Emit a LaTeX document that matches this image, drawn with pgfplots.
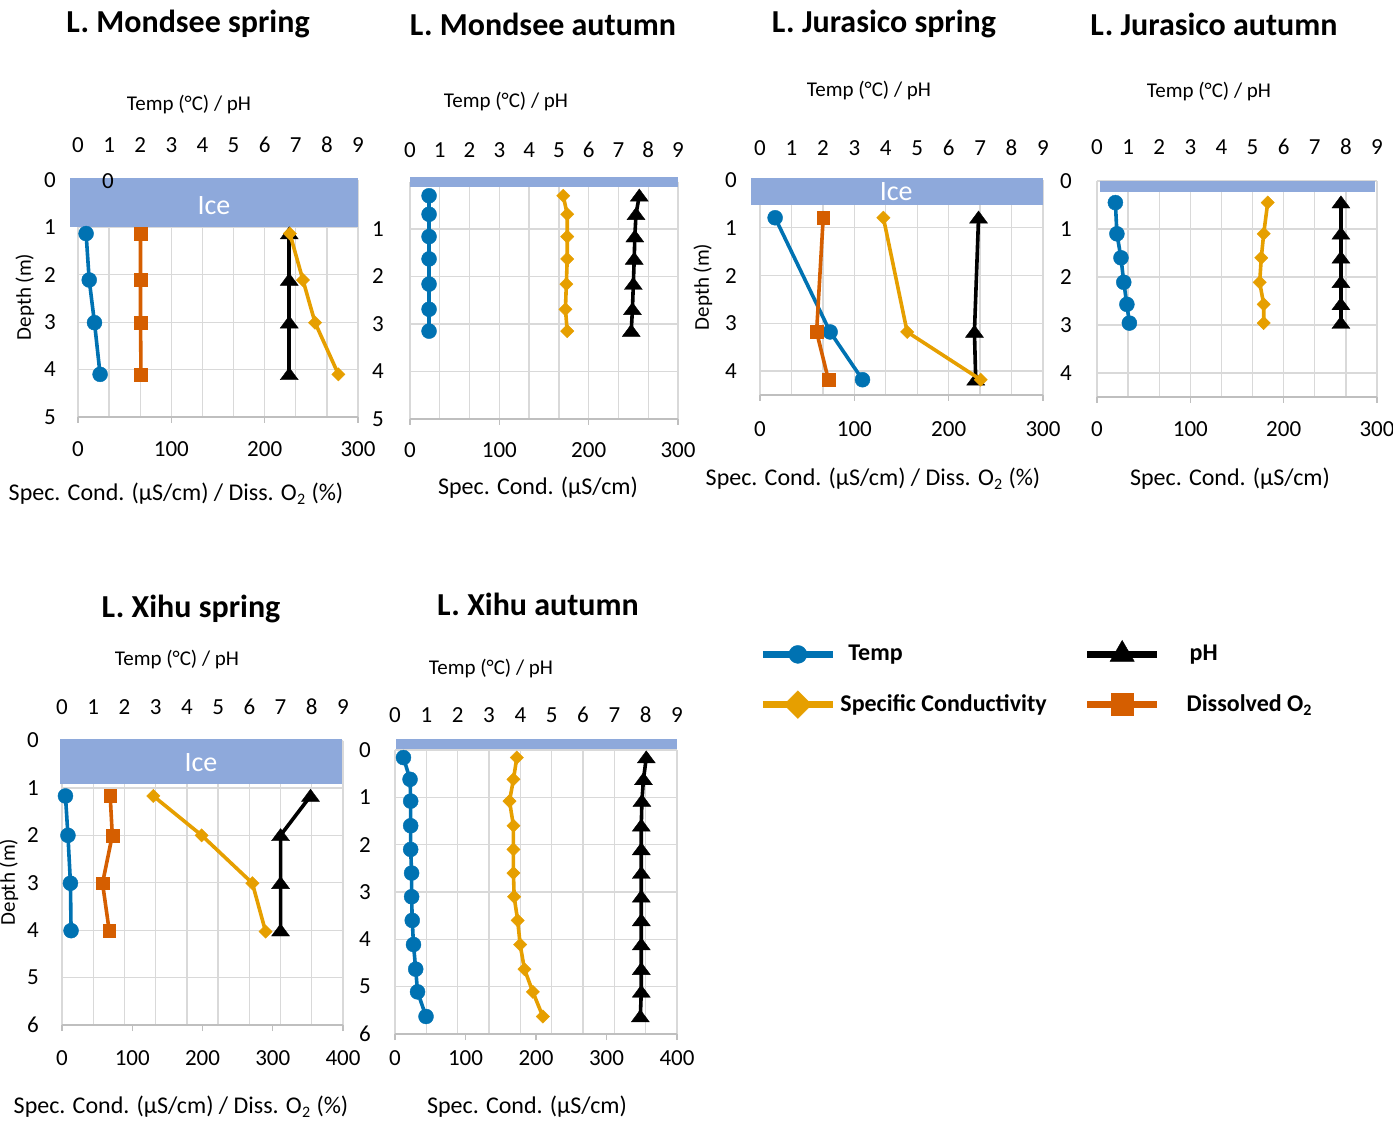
\documentclass[border=0pt]{standalone}
\usepackage{pgfplots}
\pgfplotsset{compat=1.18}
\usepackage{fontspec}
\setmainfont{Carlito}
\definecolor{cT}{RGB}{0,114,178}
\definecolor{cS}{RGB}{230,159,0}
\definecolor{cD}{RGB}{213,94,0}
\definecolor{ice}{RGB}{142,169,219}
\definecolor{gridc}{RGB}{217,217,217}
\definecolor{axc}{RGB}{191,191,191}
\newcommand\tickfont{\fontsize{11.5}{13}\selectfont}
\newcommand\titlefont{\fontsize{16}{19}\selectfont\bfseries}
\newcommand\labfont{\fontsize{10.5}{12}\selectfont}
\newcommand\botfont{\fontsize{12}{14}\selectfont}
\newcommand\legfont{\fontsize{12}{14}\selectfont\bfseries}
\newcommand\icefont{\fontsize{14}{16}\selectfont}
\pgfdeclareplotmark{etri*}{%
  \pgfpathmoveto{\pgfpoint{0pt}{0.75\pgfplotmarksize}}%
  \pgfpathlineto{\pgfpoint{-\pgfplotmarksize}{-0.6\pgfplotmarksize}}%
  \pgfpathlineto{\pgfpoint{\pgfplotmarksize}{-0.6\pgfplotmarksize}}%
  \pgfpathclose\pgfusepathqfillstroke}
\pgfplotsset{
  sT/.style={cT, line width=1.8pt, mark=*, mark size=3.75pt, mark options={fill=cT, line width=0.2pt}},
  sP/.style={black, line width=1.8pt, mark=etri*, mark size=4.5pt, mark options={fill=black, line width=0.2pt}},
  sS/.style={cS, line width=1.8pt, mark=square*, mark size=2.35pt, mark options={rotate=45, fill=cS, line width=0.2pt}},
  sD/.style={cD, line width=1.8pt, mark=square*, mark size=3.2pt, mark options={fill=cD, line width=0.2pt}},
  aA/.style={scale only axis, clip=false, y dir=reverse, xmin=0, xmax=9, xtick={0,...,9},
    axis x line*=top, axis y line*=left, axis line style={draw=none}, major tick length=0pt,
    grid=major, grid style={gridc, line width=0.65pt},
    tick label style={font=\tickfont}, /pgf/number format/assume math mode=true,
    xticklabel style={anchor=center}, yticklabel style={anchor=center}},
  aB/.style={scale only axis, y dir=reverse, xmin=0, axis x line*=bottom, axis y line=none,
    x axis line style={-, axc, line width=0.65pt}, every tick/.style={axc, line width=0.65pt},
    xtick align=outside, major tick length=3pt, ytick=\empty,
    tick label style={font=\tickfont}, /pgf/number format/assume math mode=true,
    xticklabel style={anchor=center}},
}
\begin{document}
\begin{tikzpicture}
\path[use as bounding box] (0,0) rectangle (696.5pt,-561pt);
% ---------- texts ----------
\node[font=\titlefont] at (94pt,-12pt) {L. Mondsee spring};
\node[font=\titlefont] at (271.5pt,-12pt) {L. Mondsee autumn};
\node[font=\titlefont] at (442pt,-12pt) {L. Jurasico spring};
\node[font=\titlefont] at (607pt,-12pt) {L. Jurasico autumn};
\node[font=\titlefont] at (95.5pt,-304.5pt) {L. Xihu spring};
\node[font=\titlefont] at (269pt,-302pt) {L. Xihu autumn};
\node[font=\labfont] at (94.5pt,-52.5pt) {Temp (°C) / pH};
\node[font=\labfont] at (253pt,-51pt) {Temp (°C) / pH};
\node[font=\labfont] at (434.5pt,-45.5pt) {Temp (°C) / pH};
\node[font=\labfont] at (604.5pt,-46pt) {Temp (°C) / pH};
\node[font=\labfont] at (88.5pt,-330pt) {Temp (°C) / pH};
\node[font=\labfont] at (245.5pt,-334.5pt) {Temp (°C) / pH};
\node[font=\botfont] at (88pt,-247pt) {Spec. Cond. (µS/cm) / Diss. O\textsubscript{2} (\%)};
\node[font=\botfont] at (269pt,-244pt) {Spec. Cond. (µS/cm)};
\node[font=\botfont] at (436.5pt,-239.5pt) {Spec. Cond. (µS/cm) / Diss. O\textsubscript{2} (\%)};
\node[font=\botfont] at (615pt,-239.5pt) {Spec. Cond. (µS/cm)};
\node[font=\botfont] at (90.5pt,-553.5pt) {Spec. Cond. (µS/cm) / Diss. O\textsubscript{2} (\%)};
\node[font=\botfont] at (263.5pt,-553.5pt) {Spec. Cond. (µS/cm)};
\node[font=\labfont, rotate=90] at (12.5pt,-148.5pt) {Depth (m)};
\node[font=\labfont, rotate=90] at (351.5pt,-143.5pt) {Depth (m)};
\node[font=\labfont, rotate=90] at (4.5pt,-441pt) {Depth (m)};
% ---------- P1 Mondsee spring ----------
\begin{axis}[aA, at={(109pt,-149.25pt)}, anchor=center, width=140pt, height=118.5pt,
  ymin=0, ymax=5, ytick={0,...,5}, xticklabel style={yshift=17.5pt}, yticklabel style={xshift=-14pt}]
\fill[ice] (axis cs:-0.26,-0.04) rectangle (axis cs:9,0.99);
\node[font=\icefont, text=white] at (axis cs:4.37,0.53) {Ice};
\node[font=\tickfont] at (axis cs:0.96,0.03) {0};
\addplot[sT] coordinates {(0.26,1.13) (0.36,2.11) (0.53,3.01) (0.71,4.1)};
\addplot[sP] coordinates {(6.79,1.13) (6.79,2.11) (6.79,3.01) (6.79,4.1)};
\end{axis}
\begin{axis}[aB, at={(109pt,-149.25pt)}, anchor=center, width=140pt, height=118.5pt,
  ymin=0, ymax=5, xmax=300, xtick={0,100,200,300}, xticklabel style={yshift=-13pt}]
\addplot[sD] coordinates {(67,1.13) (67,2.11) (67,3.01) (67.5,4.1)};
\addplot[sS] coordinates {(227,1.13) (241,2.11) (254,3.01) (279,4.1)};
\end{axis}
% ---------- P2 Mondsee autumn ----------
\begin{axis}[aA, at={(272pt,-150.125pt)}, anchor=center, width=134pt, height=118.75pt,
  ymin=0, ymax=5, ytick={0,...,5}, yticklabels={,1,2,3,4,5}, xticklabel style={yshift=15.75pt}, yticklabel style={xshift=-16pt}]
\fill[ice] (axis cs:0,-0.1) rectangle (axis cs:9,0.11);
\addplot[sT] coordinates {(0.64,0.30) (0.64,0.69) (0.64,1.16) (0.64,1.63) (0.64,2.16) (0.64,2.69) (0.64,3.15)};
\addplot[sP] coordinates {(7.70,0.30) (7.59,0.69) (7.55,1.16) (7.53,1.63) (7.50,2.16) (7.47,2.69) (7.43,3.15)};
\end{axis}
\begin{axis}[aB, at={(272pt,-150.125pt)}, anchor=center, width=134pt, height=118.75pt,
  ymin=0, ymax=5, xmax=300, xtick={0,100,200,300}, xticklabel style={yshift=-12.5pt}]
\addplot[sS] coordinates {(171.5,0.30) (176,0.69) (176,1.16) (176,1.63) (175,2.16) (174,2.69) (176,3.15)};
\end{axis}
% ---------- P3 Jurasico spring ----------
\begin{axis}[aA, at={(450.75pt,-143.75pt)}, anchor=center, width=141.5pt, height=107.5pt,
  ymin=0, ymax=4.5, ytick={0,...,4}, xticklabel style={yshift=16pt}, yticklabel style={xshift=-14.5pt}]
\fill[ice] (axis cs:-0.3,-0.04) rectangle (axis cs:9,0.52);
\node[font=\icefont, text=white] at (axis cs:4.33,0.25) {Ice};
\addplot[sT] coordinates {(0.48,0.79) (2.23,3.18) (3.26,4.18)};
\addplot[sP] coordinates {(6.95,0.79) (6.82,3.18) (6.86,4.18)};
\end{axis}
\begin{axis}[aB, at={(450.75pt,-143.75pt)}, anchor=center, width=141.5pt, height=107.5pt,
  ymin=0, ymax=4.5, xmax=300, xtick={0,100,200,300}, xticklabel style={yshift=-14pt}]
\addplot[sD] coordinates {(67,0.79) (60,3.18) (72.5,4.18)};
\addplot[sS] coordinates {(130.8,0.79) (156,3.18) (234,4.18)};
\end{axis}
% ---------- P4 Jurasico autumn ----------
\begin{axis}[aA, at={(618.5pt,-144.5pt)}, anchor=center, width=140pt, height=108pt,
  ymin=0, ymax=4.5, ytick={0,...,4}, xticklabel style={yshift=17pt}, yticklabel style={xshift=-15.5pt}]
\fill[ice] (axis cs:0.1,0) rectangle (axis cs:8.93,0.22);
\addplot[sT] coordinates {(0.59,0.45) (0.64,1.10) (0.77,1.60) (0.86,2.11) (0.96,2.57) (1.04,2.96)};
\addplot[sP] coordinates {(7.84,0.45) (7.84,1.10) (7.84,1.60) (7.84,2.11) (7.84,2.57) (7.84,2.96)};
\end{axis}
\begin{axis}[aB, at={(618.5pt,-144.5pt)}, anchor=center, width=140pt, height=108pt,
  ymin=0, ymax=4.5, xmax=300, xtick={0,100,200,300}, xticklabel style={yshift=-13pt}]
\addplot[sS] coordinates {(182.9,0.45) (178.6,1.10) (176,1.60) (174.3,2.11) (178.6,2.57) (178.6,2.96)};
\end{axis}
% ---------- P5 Xihu spring ----------
\begin{axis}[aA, at={(101.25pt,-441.375pt)}, anchor=center, width=140.5pt, height=142.25pt,
  ymin=0, ymax=6, ytick={0,...,6}, xticklabel style={yshift=16.75pt}, yticklabel style={xshift=-14.5pt}]
\fill[ice] (axis cs:-0.08,-0.03) rectangle (axis cs:8.97,0.92);
\node[font=\icefont, text=white] at (axis cs:4.45,0.47) {Ice};
\addplot[sT] coordinates {(0.11,1.17) (0.19,2.0) (0.27,3.01) (0.29,4.01)};
\addplot[sP] coordinates {(7.96,1.17) (7.0,2.0) (7.0,3.01) (7.0,4.01)};
\end{axis}
\begin{axis}[aB, at={(101.25pt,-441.375pt)}, anchor=center, width=140.5pt, height=142.25pt,
  ymin=0, ymax=6, xmax=400, xtick={0,100,200,300,400}, xticklabel style={yshift=-13.5pt}]
\addplot[sD] coordinates {(68.6,1.17) (71.6,2.0) (57.7,3.01) (67.2,4.01)};
\addplot[sS] coordinates {(130,1.17) (198.8,2.0) (271,3.01) (289.8,4.03)};
\end{axis}
% ---------- P6 Xihu autumn ----------
\begin{axis}[aA, at={(268pt,-446pt)}, anchor=center, width=141pt, height=142pt,
  ymin=0, ymax=6, ytick={0,...,6}, xticklabel style={yshift=17.5pt}, yticklabel style={xshift=-15pt}]
\fill[ice] (axis cs:0.03,-0.23) rectangle (axis cs:9,-0.03);
\addplot[sT] coordinates {(0.27,0.16) (0.48,0.62) (0.50,1.08) (0.50,1.6) (0.50,2.1) (0.53,2.6) (0.53,3.1) (0.55,3.6) (0.59,4.11) (0.66,4.63) (0.72,5.11) (0.99,5.63)};
\addplot[sP] coordinates {(8.02,0.16) (7.93,0.62) (7.88,1.08) (7.86,1.6) (7.86,2.1) (7.86,2.6) (7.86,3.1) (7.86,3.6) (7.86,4.11) (7.86,4.63) (7.86,5.11) (7.83,5.63)};
\end{axis}
\begin{axis}[aB, at={(268pt,-446pt)}, anchor=center, width=141pt, height=142pt,
  ymin=0, ymax=6, xmax=400, xtick={0,100,200,300,400}, xticklabel style={yshift=-9pt}]
\addplot[sS] coordinates {(172.8,0.16) (168,0.62) (162.4,1.08) (168,1.6) (168,2.1) (168,2.6) (169,3.1) (174,3.6) (177.5,4.11) (183.6,4.63) (195.5,5.11) (209.7,5.63)};
\end{axis}
% ---------- legend ----------
\begin{axis}[at={(379.5pt,-320pt)}, anchor=north west, scale only axis, width=10pt, height=10pt,
  hide axis, xmin=0, xmax=1, ymin=0, ymax=1, legend columns=2, legend cell align=left,
  legend image code/.code={\draw[mark repeat=2, mark phase=2, #1] plot coordinates {(0pt,0pt) (17.5pt,0pt) (35pt,0pt)};},
  legend style={draw=none, fill=none, at={(0,1)}, anchor=north west, inner sep=0pt, font=\legfont,
    row sep=11.5pt, /tikz/every even column/.append style={column sep=16.5pt}}]
\addlegendimage{cT, line width=3.5pt, mark=*, mark size=4.5pt, mark options={fill=cT, line width=0.2pt}}
\addlegendentry{\hspace{4pt}Temp}
\addlegendimage{black, line width=3.5pt, mark=triangle*, mark size=7pt, mark options={fill=black, line width=0.2pt}}
\addlegendentry{\hspace{12.5pt}pH}
\addlegendimage{cS, line width=3.5pt, mark=square*, mark size=4.9pt, mark options={rotate=45, fill=cS, line width=0.2pt}}
\addlegendentry{Specific Conductivity}
\addlegendimage{cD, line width=3.5pt, mark=square*, mark size=5.5pt, mark options={fill=cD, line width=0.2pt}}
\addlegendentry{\hspace{11pt}Dissolved O\textsubscript{2}}
\end{axis}
\end{tikzpicture}
\end{document}
